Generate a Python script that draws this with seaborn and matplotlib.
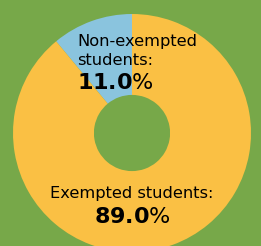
import matplotlib
matplotlib.use("Agg")
import matplotlib.pyplot as plt
import seaborn as sns

# data
labels = ["Non-exempted\nstudents:", "Exempted students:"]
shares = [11.0, 89.0]
colors = ["#8AC4DE", "#FAC044"]
background = "#77A849"

sns.set_theme(style="white")
plt.rcParams["font.family"] = ["DejaVu Sans"]
plt.rcParams["mathtext.fontset"] = "dejavusans"

fig = plt.figure(figsize=(2.61, 2.46), dpi=100, facecolor=background)
ax = fig.add_axes([0, 0, 1, 1])
ax.set_facecolor(background)

palette = sns.color_palette(colors)
ax.pie(shares, colors=palette, startangle=90, counterclock=True,
       radius=1.0, wedgeprops=dict(width=0.68, linewidth=0))

# label anchors: (x, first baseline, value baseline, alignment)
anchors = [(-0.462, 0.731, 0.370, "left"), (0.0, -0.55, -0.756, "center")]
line_step = 0.160
for lab, val, (x, y, vy, ha) in zip(labels, shares, anchors):
    for i, line in enumerate(lab.split("\n")):
        ax.text(x, y - i * line_step, line, ha=ha, va="baseline",
                fontsize=11.7, color="black")
    # bold number, lighter percent sign
    ax.text(x, vy, f"$\\mathbf{{{val:.1f}}}$%", ha=ha, va="baseline",
            fontsize=16, color="black")

ax.set_xlim(-132 / 119, 129 / 119)
ax.set_ylim(-113 / 119, 133 / 119)
ax.set_aspect("equal")
ax.axis("off")

fig.savefig("out.png", dpi=100, facecolor=background)
